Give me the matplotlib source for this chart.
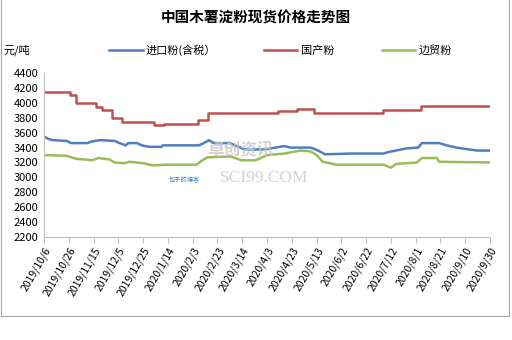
import pandas as pd
import matplotlib
matplotlib.use("Agg")
import matplotlib.pyplot as plt
from matplotlib.lines import Line2D

plt.rcParams['font.family'] = ['Noto Sans CJK SC', 'DejaVu Sans']

# 国产粉 (step changes)
red_dates = ["2019-10-06", "2019-10-27", "2019-11-01", "2019-11-17", "2019-11-22", "2019-11-30",
             "2019-12-08", "2020-01-03", "2020-01-11", "2020-02-07", "2020-02-15", "2020-04-12",
             "2020-04-27", "2020-05-11", "2020-07-06", "2020-08-05", "2020-09-30"]
red_vals = [4150, 4100, 4000, 3950, 3900, 3800, 3750, 3700, 3720, 3770, 3870, 3890,
            3920, 3870, 3900, 3960, 3960]

# 进口粉(含税)
blue_dates = ["2019-10-06", "2019-10-09", "2019-10-13", "2019-10-24", "2019-10-28", "2019-11-10",
              "2019-11-13", "2019-11-20", "2019-12-02", "2019-12-06", "2019-12-11", "2019-12-13",
              "2019-12-20", "2019-12-24", "2019-12-30", "2020-01-09", "2020-01-10", "2020-02-08",
              "2020-02-12", "2020-02-16", "2020-02-20", "2020-03-04", "2020-03-11", "2020-03-15",
              "2020-03-20", "2020-04-03", "2020-04-10", "2020-04-17", "2020-04-22", "2020-05-08",
              "2020-05-13", "2020-05-20", "2020-06-10", "2020-07-06", "2020-07-10", "2020-07-16",
              "2020-07-25", "2020-08-03", "2020-08-06", "2020-08-20", "2020-08-26", "2020-09-03",
              "2020-09-11", "2020-09-20", "2020-09-30"]
blue_vals = [3550, 3520, 3500, 3490, 3460, 3460,
             3480, 3500, 3490, 3460, 3430, 3460,
             3460, 3430, 3410, 3410, 3430, 3430,
             3460, 3500, 3460, 3460, 3410, 3380,
             3370, 3380, 3400, 3420, 3400, 3400,
             3370, 3310, 3320, 3320, 3340, 3360,
             3390, 3400, 3460, 3460, 3430, 3400,
             3380, 3360, 3360]

# 边贸粉
green_dates = ["2019-10-06", "2019-10-24", "2019-11-01", "2019-11-14", "2019-11-19", "2019-11-28",
               "2019-12-02", "2019-12-10", "2019-12-14", "2019-12-25", "2020-01-02", "2020-01-11",
               "2020-02-06", "2020-02-10", "2020-02-15", "2020-03-05", "2020-03-13", "2020-03-25",
               "2020-04-03", "2020-04-17", "2020-04-30", "2020-05-08", "2020-05-13", "2020-05-18",
               "2020-05-29", "2020-07-06", "2020-07-12", "2020-07-16", "2020-08-02", "2020-08-06",
               "2020-08-18", "2020-08-20", "2020-09-30"]
green_vals = [3300, 3290, 3250, 3230, 3260, 3240,
              3200, 3190, 3210, 3190, 3160, 3170,
              3170, 3220, 3270, 3280, 3230, 3230,
              3300, 3320, 3360, 3350, 3300, 3210,
              3170, 3170, 3130, 3180, 3200, 3260,
              3260, 3210, 3200]

tick_dates = pd.date_range("2019-10-06", periods=19, freq="20D")
tick_labels = [f"{d.year}/{d.month}/{d.day}" for d in tick_dates]

c_blue, c_red, c_green = "#4F7FC0", "#C0504D", "#9BBB59"

fig = plt.figure(figsize=(5.12, 3.4), dpi=100)
ax = fig.add_axes([0.086, 0.303, 0.871, 0.482])

ax.plot(pd.to_datetime(red_dates), red_vals, color=c_red, lw=1.8, drawstyle="steps-post")
ax.plot(pd.to_datetime(blue_dates), blue_vals, color=c_blue, lw=1.8)
ax.plot(pd.to_datetime(green_dates), green_vals, color=c_green, lw=1.8)

ax.set_ylim(2200, 4400)
ax.set_yticks(range(2200, 4401, 200))
ax.set_xlim(tick_dates[0], tick_dates[-1])
ax.set_xticks(tick_dates)
ax.set_xticklabels(tick_labels, rotation=60, ha="right", rotation_mode="anchor")
ax.tick_params(axis="x", labelsize=7.5, length=4, color="#BFBFBF", pad=2)
ax.tick_params(axis="y", labelsize=8, length=0, pad=4)
for s in ["top", "right"]:
    ax.spines[s].set_visible(False)
for s in ["left", "bottom"]:
    ax.spines[s].set_color("#BFBFBF")

fig.text(0.5, 0.948, "中国木薯淀粉现货价格走势图", ha="center", va="center",
         fontsize=10.5, fontweight="bold")
fig.text(0.006, 0.852, "元/吨", ha="left", va="center", fontsize=8)

handles = [Line2D([], [], color=c, lw=1.8) for c in (c_blue, c_red, c_green)]
fig.legend(handles, ["进口粉(含税）", "国产粉", "边贸粉"], loc="center",
           bbox_to_anchor=(0.548, 0.852), ncol=3, frameon=False, fontsize=8,
           handlelength=3.0, handletextpad=0.3, columnspacing=4.3)

# watermark
fig.text(0.405, 0.545, "卓创资讯", fontsize=12, color="#C8C8C8", alpha=0.8, fontweight="bold")
fig.text(0.43, 0.465, "SCI99.COM", fontsize=12.5, color="#C8C8C8", alpha=0.8, family="Liberation Serif")
fig.text(0.33, 0.465, "包子的博客", fontsize=4.5, color="#3A8FD8")

# outer frame
fig.add_artist(Line2D([0.002, 0.002], [0.07, 1.0], color="#A6A6A6", lw=0.8))
fig.add_artist(Line2D([0.994, 0.994], [0.07, 1.0], color="#A6A6A6", lw=0.8))
fig.add_artist(Line2D([0.002, 0.994], [0.07, 0.07], color="#A6A6A6", lw=0.8))

fig.savefig("out.png", dpi=100)
